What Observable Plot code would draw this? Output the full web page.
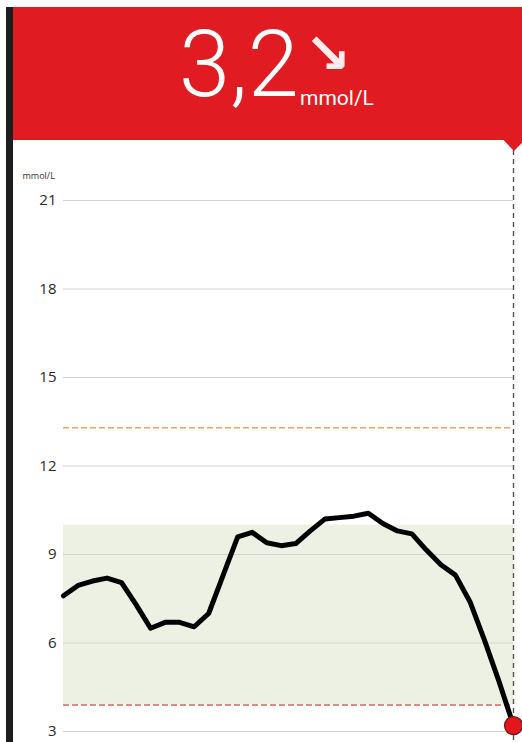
<!DOCTYPE html>
<html><head><meta charset="utf-8">
<script src="https://cdn.jsdelivr.net/npm/d3@7"></script>
<script src="https://cdn.jsdelivr.net/npm/@observablehq/plot@0.6"></script>
<style>
html,body{margin:0;padding:0;background:#fff;}
#wrap{position:relative;width:522px;height:742px;overflow:hidden;background:#fff;}
#bar{position:absolute;left:6px;top:7px;width:7px;height:735px;background:#1d1d1d;z-index:3;}
#head{position:absolute;left:0;top:0;z-index:2;}
#chart{position:absolute;left:0;top:140px;z-index:1;}
</style></head><body>
<div id="wrap">
  <div id="chart"></div>
  <div id="bar"></div>
  <svg id="head" width="522" height="152" xmlns="http://www.w3.org/2000/svg">
    <rect x="13" y="7" width="509" height="133" fill="#e01b21"></rect>
    <polygon points="503,139.5 525,139.5 514,151" fill="#e01b21"></polygon>
    <text id="val" x="179" y="96" fill="#fff" font-family="Roboto" font-weight="300" font-size="92"></text>
    <text id="arrow" x="304" y="73" fill="#fff" font-family="DejaVu Sans" font-weight="bold" font-size="56" opacity="0.92"></text>
    <text id="unit" x="300" y="105" fill="#fff" font-family="Roboto" font-size="21"></text>
  </svg>
</div>
<script>
// ---- data ----
const currentValue = "3,2";
const trendArrow = "↘";
const unitLabel = "mmol/L";
const readings = [7.6, 7.95, 8.1, 8.2, 8.05, 7.3, 6.5, 6.7, 6.7, 6.55, 7.0, 8.3, 9.6, 9.75, 9.4, 9.3,
                  9.37, 9.8, 10.2, 10.25, 10.3, 10.4, 10.05, 9.8, 9.7, 9.15, 8.65, 8.3, 7.4, 6.1, 4.7, 3.2];
const yTicks = [3, 6, 9, 12, 15, 18, 21];
const targetLow = 3.9;
const targetHigh = 10;
const highAlert = 13.3;

document.getElementById("val").textContent = currentValue;
document.getElementById("arrow").textContent = trendArrow;
document.getElementById("unit").textContent = unitLabel;

const data = readings.map((v, i) => ({i, v}));
const last = data[data.length - 1];

const W = 522, H = 602;
const plot = Plot.plot({
  width: W,
  height: H,
  marginLeft: 63,
  marginRight: 9,
  marginTop: 10,
  marginBottom: 0,
  style: {fontFamily: "'Open Sans', sans-serif", background: "transparent", overflow: "visible"},
  x: {domain: [data[0].i, last.i], axis: null},
  y: {domain: [3, 21], range: [591, 60], ticks: yTicks},
  marks: [
    Plot.rect([{a: data[0].i, b: last.i, lo: targetLow, hi: targetHigh}], {x1: "a", x2: "b", y1: "lo", y2: "hi", fill: "#edf1e3"}),
    Plot.ruleY(yTicks, {stroke: "#d2d2d2", strokeWidth: 1.2}),
    Plot.axisY(yTicks, {tickSize: 0, tickPadding: 7, fontSize: 15, fill: "#2a2a2a", label: null}),
    Plot.text([unitLabel], {frameAnchor: "top-left", dx: -41, dy: 22, textAnchor: "start", fontSize: 9, fill: "#333"}),
    Plot.ruleY([highAlert], {stroke: "#e9a466", strokeWidth: 1.5, strokeDasharray: "6,3"}),
    Plot.ruleY([targetLow], {stroke: "#cf6a62", strokeWidth: 1.5, strokeDasharray: "6,3"}),
    Plot.ruleX([last.i], {stroke: "#555", strokeWidth: 1.4, strokeDasharray: "5,4"}),
    Plot.line(data, {x: "i", y: "v", stroke: "#000", strokeWidth: 5, strokeLinejoin: "round", strokeLinecap: "round"}),
    Plot.line(data, {x: "i", y: "v", stroke: "#e01b21", strokeWidth: 5, strokeLinejoin: "round", ariaLabel: "lowline"}),
    Plot.dot([last], {x: "i", y: "v", r: 9, fill: "#e3161c", stroke: "#6b1515", strokeWidth: 1.2})
  ]
});

// clip the red copy of the line to the region below the low target
const yScale = plot.scale("y");
const yLow = yScale.apply(targetLow);
const svg = d3.select(plot.tagName.toLowerCase() === "svg" ? plot : plot.querySelector("svg"));
const defs = svg.insert("defs", ":first-child");
defs.append("clipPath").attr("id", "lowclip")
  .append("rect").attr("x", 0).attr("y", yLow).attr("width", W).attr("height", H - yLow);
svg.selectAll("g[aria-label='lowline']").attr("clip-path", "url(#lowclip)");

document.getElementById("chart").appendChild(plot);
</script>
</body></html>
